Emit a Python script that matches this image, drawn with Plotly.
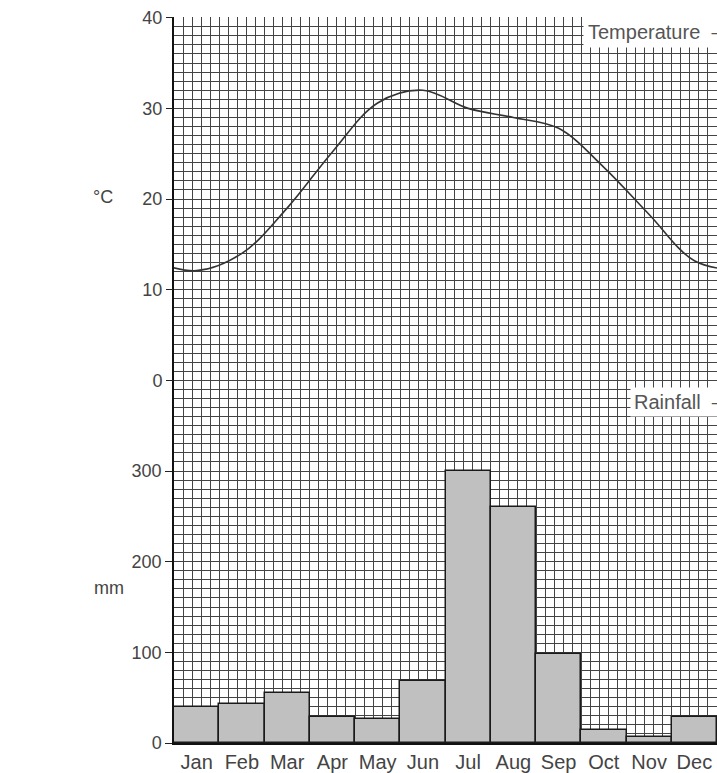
import plotly.graph_objects as go

months = ["Jan", "Feb", "Mar", "Apr", "May", "Jun", "Jul", "Aug", "Sep", "Oct", "Nov", "Dec"]
temperature_c = [12.1, 14.0, 19.0, 25.2, 30.6, 32.0, 30.0, 29.0, 27.8, 23.5, 18.3, 13.2]
rainfall_mm = [40, 43, 55, 29, 26, 68, 300, 260, 98, 14, 7, 29]
temp_ticks = [0, 10, 20, 30, 40]
rain_ticks = [0, 100, 200, 300]

idx = list(range(len(months)))
# wrap the annual cycle so the curve reaches both edges
t_x = [idx[0] - 1] + idx + [idx[-1] + 1]
t_y = [temperature_c[-1]] + temperature_c + [temperature_c[0]]

grid_col = "#444444"
grid_w = 1.3
font_fam = "Liberation Sans, Arial, sans-serif"
txt_col = "#444444"
pad = 0.001  # tiny headroom so the top tick label is kept

fig = go.Figure()
fig.add_trace(go.Bar(
    x=idx, y=rainfall_mm, width=1.0,
    marker=dict(color="#c0c0c0", line=dict(color="#1a1a1a", width=1.5)),
    yaxis="y", showlegend=False, hoverinfo="skip",
))
fig.add_trace(go.Scatter(
    x=t_x, y=t_y, mode="lines",
    line=dict(color="#333333", width=1.6, shape="spline", smoothing=1.0),
    yaxis="y2", showlegend=False, hoverinfo="skip",
))

fig.update_layout(
    width=717, height=773,
    margin=dict(l=174, r=0, t=17, b=30, autoexpand=False),
    paper_bgcolor="white", plot_bgcolor="white",
    font=dict(family=font_fam, color=txt_col, size=18),
    bargap=0,
    xaxis=dict(
        range=[-0.5, 11.5], tickmode="array", tickvals=idx, ticktext=months,
        showgrid=False, zeroline=False, showline=True, linecolor="#111", linewidth=1.5,
        ticks="", tickfont=dict(size=20, color=txt_col), automargin=False,
        minor=dict(tickmode="linear", tick0=-0.5, dtick=0.2, showgrid=True,
                   gridcolor=grid_col, gridwidth=grid_w, ticks=""),
    ),
    yaxis=dict(
        range=[0, 800 * (1 + pad)], tickmode="array", tickvals=rain_ticks,
        ticktext=[str(v) for v in rain_ticks], automargin=False,
        showgrid=False, zeroline=False, showline=True, linecolor="#111", linewidth=1.5,
        ticks="outside", ticklen=7, tickcolor="#222", tickwidth=1.3,
        tickfont=dict(size=18, color=txt_col),
        minor=dict(tickmode="linear", tick0=0, dtick=10, showgrid=True,
                   gridcolor=grid_col, gridwidth=grid_w, ticks=""),
    ),
    yaxis2=dict(
        range=[-40, 40 + 80 * pad], overlaying="y", side="left", tickmode="array",
        tickvals=temp_ticks, ticktext=[str(v) for v in temp_ticks], automargin=False,
        showgrid=False, zeroline=False, showline=False,
        ticks="outside", ticklen=7, tickcolor="#222", tickwidth=1.3,
        tickfont=dict(size=18, color=txt_col),
    ),
    annotations=[
        dict(text="°C", xref="paper", yref="paper", x=-0.131, y=0.752,
             xanchor="center", yanchor="middle",
             showarrow=False, font=dict(size=18, color=txt_col)),
        dict(text="mm", xref="paper", yref="paper", x=-0.12, y=0.2135,
             xanchor="center", yanchor="middle",
             showarrow=False, font=dict(size=18, color=txt_col)),
        dict(text="Temperature  \u2012\u2012", xref="paper", yref="paper",
             x=0.753, y=0.979, xanchor="left", yanchor="middle",
             showarrow=False, bgcolor="white", borderpad=4,
             font=dict(size=20, color="#555555")),
        dict(text="Rainfall  \u2012\u2012", xref="paper", yref="paper",
             x=0.84, y=0.4697, xanchor="left", yanchor="middle",
             showarrow=False, bgcolor="white", borderpad=3,
             font=dict(size=20, color="#555555")),
    ],
)

fig.write_html(
    "out.html",
    config={"displayModeBar": False},
    post_script="document.body.style.margin='0';document.body.style.overflow='hidden';",
)
